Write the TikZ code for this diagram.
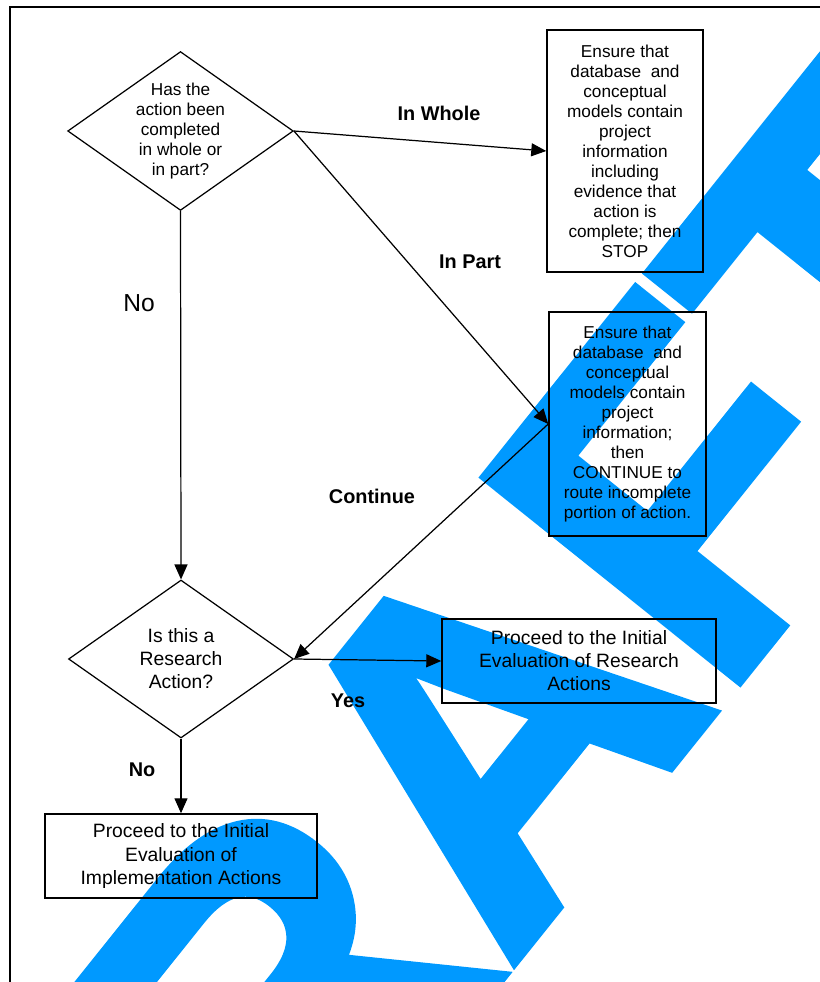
\documentclass[tikz,border=0pt]{standalone}
\usepackage{fontspec}
\setmainfont{Liberation Sans}
\newfontfamily\wmfont[FakeBold=2.5]{Liberation Sans Bold}
\usetikzlibrary{shapes.geometric,arrows.meta}
\definecolor{wmblue}{RGB}{0,153,255}

\begin{document}
\begin{tikzpicture}[x=0.02cm,y=-0.02cm,
        >={Triangle[length=8.5pt,width=7.4pt]},
        wmark/.style={text=wmblue,inner sep=0pt,font=\fontsize{268}{268}\wmfont},
        decision/.style={draw,diamond,line width=0.7pt,inner sep=0pt,aspect=1.42,minimum width=4.5cm,minimum height=3.16cm,align=center},
        tallbox/.style={draw,rectangle,line width=0.9pt,inner sep=0pt,align=center,font=\fontsize{9.8}{11.4}\selectfont},
        widebox/.style={draw,rectangle,line width=0.9pt,inner sep=0pt,align=center,minimum height=1.68cm,font=\fontsize{11}{13.1}\selectfont},
        tag/.style={font=\fontsize{11.3}{13}\selectfont\bfseries},
        link/.style={->,line width=0.7pt}]
            \useasboundingbox (0,0) rectangle (820,982);
            \clip (0,0) rectangle (820,982);
            \node[wmark,rotate=51.3,anchor=base west] at (82,1500) (wm) {DRAFT};
            \draw[line width=0.8pt] (10,990) -- (10,7) -- (830,7);
            \node[decision,font=\fontsize{9.8}{11.4}\selectfont] at (180.5,131) (done) {Has the\\action been\\completed\\in whole or\\in part?};
            \node[decision,font=\fontsize{11}{13.1}\selectfont] at (181,659) (res) {Is this a\\Research\\Action?};
            \node[tallbox,minimum width=3.12cm,minimum height=4.84cm] at (625,151) (stop) {Ensure that\\database\ \ and\\conceptual\\models contain\\project\\information\\including\\evidence that\\action is\\complete; then\\STOP};
            \node[tallbox,minimum width=3.14cm,minimum height=4.48cm] at (627.5,424) (cont) {Ensure that\\database\ \ and\\conceptual\\models contain\\project\\information;\\then\\CONTINUE to\\route incomplete\\portion of action.};
            \node[widebox,minimum width=5.48cm] at (579,661) (resev) {Proceed to the Initial\\Evaluation of Research\\Actions};
            \node[widebox,minimum width=5.44cm] at (181,856) (impev) {Proceed to the Initial\\Evaluation of\\Implementation Actions};
            \node[tag] at (439,113) (whole) {In Whole};
            \node[tag] at (470,262) (part) {In Part};
            \node[font=\fontsize{14}{16}\selectfont] at (139,303) (no) {No};
            \node[tag] at (372,496) (goon) {Continue};
            \node[tag] at (348,701) (yes) {Yes};
            \node[tag] at (142,770) (nores) {No};
            \draw[link] (done.east) to (stop.west);
            \draw[link] (done.east) to (cont.west);
            \draw[link] (done.south) to (res.north);
            \draw[link] (cont.west) to (res.east);
            \draw[link] (res.east) to (resev.west);
            \draw[link] (res.south) to (impev.north);
        \end{tikzpicture}
\end{document}
